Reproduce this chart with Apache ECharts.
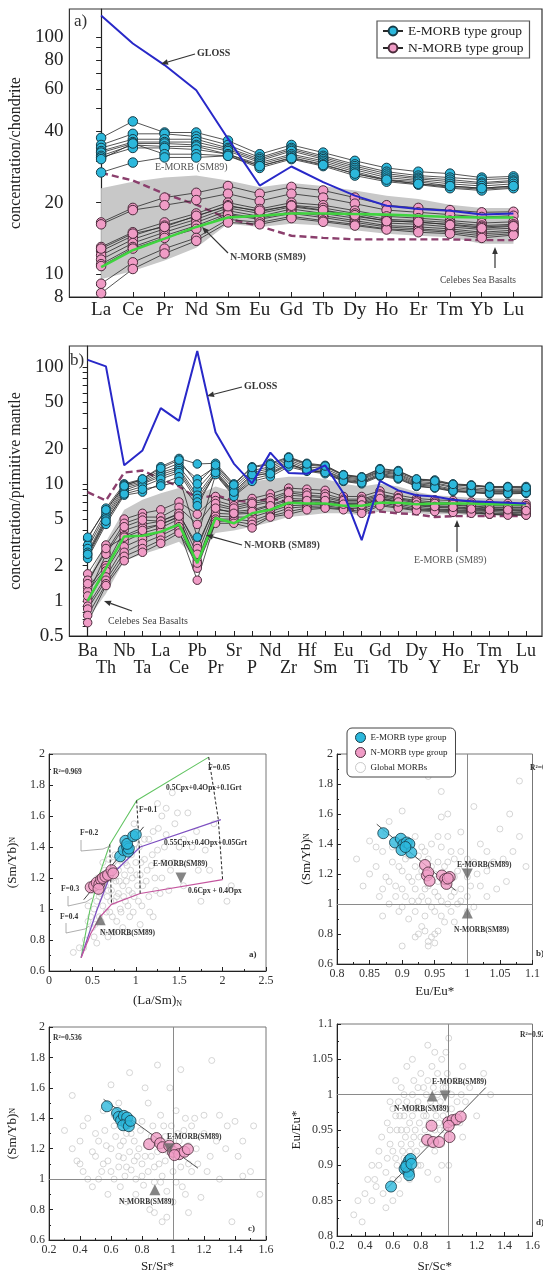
<!DOCTYPE html>
<html><head><meta charset="utf-8">
<script src="https://cdn.jsdelivr.net/npm/echarts@6/dist/echarts.min.js"></script>
<style>html,body{margin:0;padding:0;background:#fff}#c{width:543px;height:1276px}</style>
</head><body><div id="c"></div><script>
// ---------- Panel a) REE (chondrite-normalized) ----------
const REE = ['La','Ce','Pr','Nd','Sm','Eu','Gd','Tb','Dy','Ho','Er','Tm','Yb','Lu'];
const REE_E = [
 [37.5,44,39.5,39.5,36.5,32,35,32.5,30,28,27,26.5,25.5,25.8],
 [35,39,39,38,35,31,34,31.5,29,27,26,25.5,25,25.3],
 [34,37,37,37,34,30.5,33.5,31,28.5,26.5,25.5,25,24.3,24.8],
 [33,36,36,36,33.5,30,33,30.5,28,26,25.2,24.5,24,24.5],
 [32.5,35.5,35.5,35,33,29.5,32,30,27.5,25.5,24.8,24,23.5,24],
 [31.5,35,34.5,34.5,32,29,31.5,29.5,27,25,24.5,23.5,23,23.5],
 [31,34,34,33.5,32,28.5,31,29,26.5,24.8,24,23.2,22.8,23.2],
 [30.5,35.5,32,32,31.5,28,30.5,28.5,26,24.5,23.8,23,22.5,23],
 [26.8,29.5,31,31,31.5,28.5,30.8,28.8,26.5,25,24,23.5,23,23.5]
];
const REE_N = [
 [16.5,19,21,22,23.5,21.8,23.3,22.5,21,19.5,19,18.6,18.2,18.3],
 [16.2,18.6,19.5,20.5,21.8,20.3,21.8,21,19.8,18.6,18.2,17.8,17.4,17.6],
 [13,15,16.5,18,20,18.8,20,19.5,18.5,17.5,17.2,16.8,16.4,16.6],
 [12.5,14.5,16,17.5,19.5,18.3,19.5,19,18,17,16.8,16.5,16,16.2],
 [12,14,15.5,17,19,18,19.2,18.5,17.5,16.8,16.5,16.2,15.8,16],
 [11.5,13.5,15,16.5,18.5,17.5,18.8,18,17.2,16.4,16.2,15.8,15.4,15.6],
 [11,13,14.5,16,18,17.2,18.3,17.6,16.8,16,15.8,15.5,15,15.3],
 [10.8,12.8,14.2,15.5,17.8,17,18,17.3,16.5,15.8,15.5,15.2,14.8,15],
 [9.1,11.2,12.8,14.2,17,16.5,17.5,16.8,16.2,15.5,15.3,15,14.5,14.8],
 [8.3,10.5,12.2,13.8,16.5,16.2,17.2,16.6,16,15.4,15,14.8,14.2,14.6],
 [12.8,14.8,15.8,17.6,19.3,18.5,19.4,18.6,17.7,16.7,16.6,16.1,15.6,15.9]
];
const REE_GLOSS = [123,93.7,76,59.5,37.2,23.6,28.4,24.4,21.4,19.4,18.8,18.5,17.8,18.0];
const REE_NMORB = [10.7,12.6,14.1,15.8,17.3,17.6,18.0,18.0,17.9,17.8,17.6,17.4,17.3,17.3];
const REE_EMORB = [26.7,24.8,21.8,19.6,17.1,15.9,14.5,14.2,14.0,14.0,14.0,14.0,13.9,13.9];
const REE_CEL_UP = [23,24.5,25.5,26,24.8,23.2,24.2,23.5,22.5,21.4,20.7,19.6,19.0,19.0];
const REE_CEL_LO = [9.5,10.3,11.4,12.9,16.3,15.8,16.3,16.0,15.3,14.8,14.5,14.3,13.4,13.4];
const REE_YTICKS = [8,10,20,40,60,80,100];

// ---------- Panel b) spider (primitive-mantle normalized) ----------
const PM = ['Ba','Th','Nb','Ta','La','Ce','Pb','Pr','Sr','P','Nd','Zr','Hf','Sm','Eu','Ti','Gd','Tb','Dy','Y','Ho','Er','Tm','Yb','Lu'];
const PM_E = [
 [3.4,6.2,10,11,14,16.5,14.8,15,10,14,15,17,15,14.4,12,11.5,13.5,13,11,10.8,10,9.8,9.5,9.5,9.5],
 [3.0,5.8,9.8,10.8,13,15,11,14,9.5,13,14,16.5,14.5,14,11.8,11.2,13,12.5,10.8,10.5,9.8,9.6,9.3,9.3,9.2],
 [2.8,5.5,9.5,10.5,12.5,14,9,13.5,9,12.5,13.5,16,14,13.5,11.5,11,12.8,12.2,10.5,10.2,9.5,9.3,9,9,9],
 [2.6,5.2,9.2,10.2,12,13.5,8,13,8.5,12,13,15.5,13.5,13,11.2,10.8,12.5,12,10.2,10,9.3,9,8.8,8.8,8.8],
 [2.5,5.0,8.8,10,11.5,13,7.5,12.5,8.2,11.5,12.5,15,13,12.8,11,10.5,12.2,11.7,10,9.7,9,8.8,8.6,8.6,8.6],
 [2.4,4.7,8.5,9.5,11,12.5,7,12.2,8,11,12,14.5,13,12.5,10.8,10.3,12,11.4,9.8,9.5,8.8,8.6,8.4,8.4,8.4],
 [2.3,4.5,8.0,8.5,10,11.5,3.5,12,7.8,10.5,11.5,14,12.8,12.2,10.5,10,11.6,11,9.5,9.2,8.6,8.4,8.2,8.2,8.3],
 [2.5,4.8,8.2,9,9.6,10.5,6.5,12.5,8.5,12,12.2,14.8,13.2,12.5,10.6,10.2,11.8,11.2,9.6,9.3,8.7,8.5,8.3,8.3,8.4],
 [3.5,6.0,9.6,11,13.6,16,10,14.5,9.8,13.8,14.6,16.8,14.8,14.2,11.9,11.4,13.3,12.8,11,10.6,9.9,9.7,9.4,9.4,9.3]
];
const PM_N = [
 [1.7,3.0,5.0,5.6,6.0,7.0,5.5,7.8,7.0,7.5,8.2,9.2,9.0,8.8,7.8,7.8,8.7,8.0,7.5,7.3,7.2,7.0,6.8,6.8,6.8],
 [1.5,2.6,4.6,5.2,5.2,6.3,4.5,7.2,6.5,7.0,7.6,8.6,8.4,8.2,7.4,7.4,8.2,7.6,7.2,7.0,6.9,6.7,6.5,6.5,6.5],
 [1.3,2.0,4.0,4.5,4.8,5.5,3.0,6.5,6.0,6.5,7.0,8.0,7.8,7.6,7.0,7.0,7.8,7.3,6.9,6.7,6.6,6.4,6.2,6.2,6.2],
 [1.2,1.9,3.6,4.2,4.5,5.2,2.0,6.0,5.8,6.0,6.6,7.5,7.4,7.3,6.8,6.8,7.6,7.1,6.7,6.5,6.4,6.2,6.1,6.0,6.0],
 [1.0,1.8,3.2,3.8,4.2,5.0,2.2,5.6,5.5,5.6,6.2,7.0,7.0,7.0,6.6,6.5,7.4,6.9,6.5,6.3,6.2,6.0,5.9,5.9,5.8],
 [0.9,1.6,2.9,3.4,3.9,4.6,2.0,5.3,5.2,5.2,5.8,6.5,6.6,6.7,6.4,6.3,7.1,6.7,6.3,6.1,6.0,5.9,5.8,5.7,5.7],
 [0.85,1.5,2.6,3.1,3.6,4.3,1.9,5.0,5.0,4.8,5.5,6.2,6.4,6.5,6.2,6.1,6.9,6.5,6.1,6.0,5.9,5.8,5.6,5.6,5.5],
 [0.75,1.4,2.4,2.8,3.3,4.0,1.5,4.8,4.8,4.5,5.3,5.8,6.2,6.3,6.1,5.8,6.7,6.3,6.0,5.9,5.8,5.7,5.5,5.5,5.4],
 [0.65,1.35,2.2,2.6,3.1,3.8,2.1,4.6,4.6,4.2,5.2,5.5,6.0,6.2,6.0,5.6,6.5,6.2,5.9,5.8,5.7,5.6,5.5,5.4,5.4],
 [1.1,2.5,4.3,4.9,4.8,5.6,2.8,6.8,6.2,6.8,7.2,8.4,8.0,7.8,7.2,7.2,8.0,7.5,7.0,6.8,6.7,6.5,6.3,6.3,6.3],
 [1.4,2.8,3.5,4.0,4.5,5.3,2.5,6.2,5.6,5.8,6.5,7.2,7.2,7.2,6.7,6.6,7.5,7.0,6.6,6.4,6.3,6.1,6.0,6.0,5.9]
];
const PM_GLOSS = [115,101,14.4,19.3,44.4,34.6,137,27.6,14.9,10.1,18.5,12.4,12.2,14.4,8.3,3.3,10.6,8.8,8.0,7.8,7.3,7.1,7.0,6.9,6.8];
const PM_NMORB = [1.0,1.9,3.55,3.6,3.9,4.5,2.1,5.1,4.6,5.6,6.0,6.9,6.8,6.8,6.5,6.5,6.9,6.9,6.7,6.8,6.8,6.8,6.7,6.7,6.7];
const PM_EMORB = [8.5,7.2,12.5,13,11,9.5,7.5,8.0,7.2,7.0,7.5,7.0,6.8,6.8,6.5,5.6,5.8,5.6,5.5,5.2,5.3,5.3,5.3,5.3,5.3];
const PM_CEL_UP = [1.5,3.2,6.0,7.3,8.3,9.2,8.0,9.5,8.5,10.5,11,11.5,11.5,11,10,9.5,10,9.5,8.5,8.0,7.8,7.6,7.5,7.5,7.4];
const PM_CEL_LO = [0.7,1.15,2.2,2.5,2.8,3.2,2.2,3.8,4.0,4.3,4.7,5.2,5.4,5.6,5.6,5.4,5.8,5.7,5.6,5.5,5.5,5.4,5.4,5.3,5.3];
const PM_YTICKS = [0.5,1,2,5,10,20,50,100];

// ---------- Scatter panels ----------
const SA_E = [[0.82,1.34],[0.86,1.38],[0.88,1.44],[0.9,1.40],[0.91,1.37],[0.92,1.39],[0.9,1.42],[0.97,1.47],[1.0,1.48]];
const SA_N = [[0.48,1.14],[0.52,1.15],[0.55,1.17],[0.58,1.16],[0.6,1.19],[0.62,1.2],[0.65,1.21],[0.68,1.22],[0.72,1.25],[0.74,1.23],[0.57,1.13]];
const SA_G = [[0.28,0.72],[0.35,0.75],[0.42,0.8],[0.45,0.92],[0.5,0.88],[0.52,1.0],[0.55,1.05],[0.58,0.95],[0.6,1.1],[0.62,1.02],[0.63,0.85],[0.65,1.15],[0.67,1.08],[0.7,1.2],[0.7,0.98],[0.72,1.12],[0.74,1.3],[0.75,1.05],[0.77,1.18],[0.78,0.92],[0.8,1.25],[0.8,1.1],[0.82,1.0],[0.84,1.32],[0.85,1.15],[0.87,1.22],[0.88,1.05],[0.9,1.28],[0.92,1.12],[0.93,0.95],[0.95,1.35],[0.96,1.2],[0.98,1.08],[1.0,1.3],[1.02,1.15],[1.04,1.4],[1.05,1.22],[1.07,1.02],[1.1,1.32],[1.12,1.18],[1.15,1.45],[1.15,1.08],[1.18,1.28],[1.2,1.5],[1.22,1.2],[1.25,1.38],[1.28,1.1],[1.3,1.6],[1.32,1.3],[1.35,1.48],[1.4,1.25],[1.42,1.75],[1.45,1.55],[1.5,1.4],[1.55,1.15],[1.6,1.62],[1.62,1.3],[1.7,1.5],[1.75,1.05],[1.8,1.38],[1.85,1.25],[1.9,1.55],[2.05,1.05],[2.1,1.15],[0.55,0.78],[0.68,0.82],[0.9,0.85],[1.2,0.95],[0.98,1.55],[0.62,1.3],
 [0.45,1.02],[0.48,0.95],[0.5,1.12],[0.53,0.9],[0.56,1.2],[0.58,1.08],[0.6,0.92],[0.62,1.15],[0.64,1.25],[0.66,0.98],[0.68,1.12],[0.69,1.32],[0.71,1.05],[0.73,0.95],[0.74,1.2],[0.76,1.35],[0.78,1.08],[0.79,1.28],[0.81,1.18],[0.83,0.98],[0.84,1.4],[0.86,1.08],[0.88,1.3],[0.89,1.18],[0.91,1.02],[0.92,1.38],[0.94,1.25],[0.96,1.1],[0.97,0.98],[0.99,1.42],[1.01,1.22],[1.03,1.05],[1.06,1.3],[1.08,1.15],[1.1,1.45],[1.13,1.25],[1.16,0.98],[1.19,1.35],[1.23,1.12],[1.26,1.52],[1.3,1.2],[1.33,1.4],[1.38,1.12],[1.44,1.3],[1.48,1.62],[1.55,1.45],[1.65,1.4],[1.72,1.25],[1.05,0.9],[0.85,0.88],[0.75,0.85],[0.52,0.82],[0.4,0.75],[1.35,1.65],[1.25,1.68]];
const SA_GREEN = [[0.37,0.686],[0.47,0.99],[0.587,1.233],[0.70,1.416],[1.01,1.70],[1.84,1.98]];
const SA_PURPLE = [[0.37,0.686],[0.55,0.99],[0.70,1.21],[1.05,1.40],[1.98,1.577]];
const SA_PINK = [[0.37,0.686],[0.48,0.84],[0.59,0.95],[0.72,1.03],[1.05,1.10],[2.0,1.19]];
const SA_F005 = [[1.84,1.98],[1.95,1.58],[2.0,1.19]];
const SA_F01 = [[1.01,1.70],[1.04,1.40],[1.05,1.10]];
const SA_F02 = [[0.70,1.416],[0.71,1.21],[0.72,1.03]];
const SA_REG = [[0.40,1.06],[1.09,1.53]];
const SA_NSM = [[0.59,0.93]], SA_ESM = [[1.52,1.20]];

const SB_E = [[0.871,1.472],[0.889,1.41],[0.898,1.435],[0.902,1.397],[0.899,1.36],[0.907,1.41],[0.911,1.40],[0.914,1.343],[0.905,1.38]];
const SB_N = [[0.935,1.26],[0.938,1.19],[0.94,1.21],[0.942,1.155],[0.961,1.19],[0.966,1.166],[0.968,1.134],[0.973,1.18],[0.97,1.17]];
const SB_G = [[0.83,1.3],[0.84,1.12],[0.85,1.42],[0.86,1.25],[0.865,1.05],[0.87,1.35],[0.875,1.18],[0.88,1.55],[0.88,1.0],[0.885,1.28],[0.89,1.12],[0.895,0.95],[0.9,1.22],[0.9,1.62],[0.905,1.05],[0.91,1.32],[0.91,0.9],[0.915,1.15],[0.92,1.25],[0.92,0.78],[0.925,1.02],[0.93,1.38],[0.93,0.85],[0.935,1.1],[0.94,0.75],[0.94,1.3],[0.945,0.98],[0.95,1.2],[0.95,0.8],[0.955,1.45],[0.955,1.05],[0.96,0.92],[0.96,1.58],[0.965,1.15],[0.97,1.28],[0.97,1.0],[0.975,1.35],[0.98,1.08],[0.98,0.88],[0.985,1.22],[0.99,1.48],[0.99,1.02],[1.0,1.3],[1.005,1.12],[1.01,1.65],[1.015,1.2],[1.02,1.4],[1.03,1.05],[1.04,1.28],[1.05,1.5],[1.06,1.15],[1.07,1.35],[1.08,1.82],[1.09,1.25],[0.94,1.85],[0.96,1.75],[0.9,0.72],[0.95,0.74],[0.935,0.82],[0.87,0.92],[1.0,0.95],[0.92,1.45],
 [0.88,1.15],[0.885,1.38],[0.89,1.05],[0.895,1.25],[0.9,0.98],[0.9,1.1],[0.905,1.3],[0.91,1.18],[0.915,1.02],[0.915,1.4],[0.92,1.1],[0.92,0.95],[0.925,1.32],[0.925,1.18],[0.93,1.05],[0.93,1.22],[0.935,0.92],[0.935,1.35],[0.94,1.12],[0.94,1.02],[0.945,1.25],[0.945,1.4],[0.95,1.08],[0.95,0.95],[0.955,1.28],[0.955,1.15],[0.96,1.02],[0.96,1.38],[0.965,1.25],[0.965,0.88],[0.97,1.12],[0.97,1.45],[0.975,1.05],[0.975,0.95],[0.98,1.3],[0.98,1.18],[0.985,1.0],[0.99,1.1],[0.99,1.35],[0.995,1.25],[1.0,1.05],[1.0,1.18],[1.01,1.28],[1.01,0.98],[1.02,1.12],[1.03,1.35],[1.03,1.22],[1.045,1.1],[1.055,1.3],[1.065,1.6],[0.945,0.78],[0.94,0.72],[0.955,0.82],[0.925,0.8],[0.86,1.38],[0.875,1.48],[0.87,1.1],[0.85,1.2],[1.08,1.45],[0.97,1.6]];
const SB_REG = [[0.861,1.532],[0.982,1.09]];
const SB_NSM = [[1.0,0.94]], SB_ESM = [[1.0,1.2]];

const SC_E = [[0.574,1.479],[0.639,1.435],[0.65,1.409],[0.665,1.387],[0.683,1.416],[0.70,1.365],[0.704,1.405],[0.678,1.354],[0.715,1.348],[0.726,1.383]];
const SC_N = [[0.846,1.23],[0.893,1.27],[0.917,1.236],[0.933,1.21],[0.976,1.22],[0.998,1.18],[1.02,1.20],[1.04,1.164],[1.074,1.18],[1.096,1.197],[1.009,1.158]];
const SC_G = [[0.3,1.32],[0.35,1.55],[0.38,1.12],[0.4,1.25],[0.42,1.05],[0.45,1.4],[0.48,1.18],[0.5,1.3],[0.52,1.0],[0.55,1.1],[0.57,1.22],[0.6,1.62],[0.6,1.05],[0.62,1.35],[0.65,1.15],[0.66,0.95],[0.68,1.25],[0.7,1.08],[0.72,1.7],[0.73,1.3],[0.75,1.12],[0.76,0.9],[0.78,1.2],[0.8,1.38],[0.8,1.02],[0.82,1.15],[0.84,1.5],[0.85,0.8],[0.86,1.28],[0.88,1.08],[0.9,1.75],[0.9,1.18],[0.92,0.98],[0.94,1.35],[0.95,1.12],[0.96,0.75],[0.98,1.25],[1.0,1.05],[1.02,1.45],[1.03,1.3],[1.05,1.72],[1.06,0.95],[1.08,1.4],[1.1,1.1],[1.12,1.35],[1.15,1.2],[1.18,0.88],[1.2,1.42],[1.22,1.05],[1.25,1.78],[1.28,1.25],[1.3,1.0],[1.35,1.35],[1.38,0.72],[1.42,1.15],[1.45,1.02],[1.5,1.05],[1.52,1.35],[1.56,0.9],[0.55,1.45],[0.7,0.85],[1.1,0.78],[0.45,1.0],[0.98,1.6],[0.65,1.5],
 [0.5,1.15],[0.52,1.25],[0.54,1.05],[0.56,1.32],[0.58,1.12],[0.6,1.2],[0.62,1.0],[0.63,1.28],[0.65,1.08],[0.66,1.22],[0.68,1.14],[0.69,1.02],[0.7,1.3],[0.72,1.18],[0.73,1.06],[0.75,1.25],[0.76,1.0],[0.77,1.15],[0.79,1.32],[0.8,1.1],[0.81,0.96],[0.83,1.22],[0.84,1.05],[0.86,1.15],[0.87,1.35],[0.88,0.98],[0.9,1.25],[0.91,1.1],[0.92,1.42],[0.93,1.02],[0.95,1.28],[0.96,0.92],[0.97,1.18],[0.99,1.35],[1.01,1.15],[1.02,0.98],[1.04,1.25],[1.05,1.08],[1.07,1.32],[1.08,0.9],[1.1,1.22],[1.12,1.05],[1.14,1.4],[1.16,1.1],[1.2,1.3],[1.24,1.15],[1.3,1.42],[1.34,1.2],[1.4,1.38],[1.45,1.25],[0.35,1.2],[0.4,1.1],[0.42,1.35],[0.48,0.95],[0.58,0.9],[0.88,0.78],[0.93,0.72],[1.0,0.85],[0.62,1.42],[0.82,1.6]];
const SC_REG = [[0.552,1.525],[1.161,1.072]];
const SC_NSM = [[0.883,0.93]], SC_ESM = [[0.976,1.20]];

const SD_E = [[0.587,0.870],[0.684,0.895],[0.699,0.901],[0.716,0.907],[0.727,0.909],[0.712,0.891],[0.716,0.886],[0.695,0.898],[0.733,0.902]];
const SD_N = [[0.845,0.936],[0.888,0.933],[0.931,0.933],[0.877,0.956],[0.996,0.961],[1.006,0.940],[1.028,0.964],[1.056,0.965],[1.086,0.969],[1.0,0.956]];
const SD_G = [[0.32,0.83],[0.35,0.85],[0.4,0.86],[0.42,0.88],[0.45,0.9],[0.48,0.87],[0.5,0.92],[0.52,0.94],[0.55,0.89],[0.56,0.96],[0.58,0.93],[0.6,0.98],[0.62,0.91],[0.63,0.95],[0.65,0.97],[0.66,0.93],[0.68,1.0],[0.7,0.95],[0.71,0.98],[0.72,0.92],[0.74,0.97],[0.75,1.02],[0.76,0.95],[0.78,0.99],[0.8,0.94],[0.8,1.03],[0.82,0.97],[0.84,1.0],[0.85,0.93],[0.86,0.96],[0.88,1.04],[0.9,0.98],[0.9,0.92],[0.92,1.0],[0.94,0.95],[0.95,1.05],[0.96,0.97],[0.98,1.01],[1.0,0.94],[1.0,1.08],[1.02,0.98],[1.05,1.02],[1.08,0.96],[1.1,1.04],[1.12,0.99],[1.15,1.01],[1.2,0.97],[1.25,1.03],[1.3,1.0],[0.6,0.88],[0.65,0.86],[0.7,0.89],[0.55,0.84],[0.78,0.9],[0.92,0.88],[0.85,1.07],[0.7,1.04],[1.0,0.9],[0.38,0.82],[0.98,1.06],
 [0.58,0.95],[0.6,0.92],[0.62,0.97],[0.63,0.9],[0.64,0.99],[0.66,0.95],[0.67,0.92],[0.68,0.97],[0.69,0.94],[0.7,0.99],[0.72,0.96],[0.73,0.93],[0.74,1.0],[0.75,0.94],[0.76,0.98],[0.77,0.92],[0.78,1.01],[0.79,0.96],[0.8,0.98],[0.81,0.93],[0.82,1.01],[0.83,0.95],[0.84,0.97],[0.85,1.02],[0.86,0.94],[0.87,0.99],[0.88,0.96],[0.89,1.01],[0.9,0.95],[0.91,0.97],[0.92,1.03],[0.93,0.96],[0.94,0.99],[0.95,0.93],[0.96,1.01],[0.97,0.95],[0.98,0.98],[0.99,1.03],[1.02,1.0],[1.04,0.96],[1.06,0.99],[1.09,1.0],[0.5,0.9],[0.53,0.86],[0.45,0.85],[0.47,0.88],[0.56,0.91],[0.6,0.85],[0.64,0.88],[0.68,0.91],[0.72,0.88],[0.8,0.9],[0.85,0.89],[0.9,1.06],[0.74,1.05],[0.66,1.01],[0.58,0.99],[0.62,1.02],[0.95,0.9],[1.1,0.94]];
const SD_REG = [[0.561,0.868],[1.265,1.01]];
const SD_NSM = [[0.882,0.998]], SD_ESM = [[0.974,0.998]];

// ---------- styles ----------
const SERIF = '"Liberation Serif","DejaVu Serif",serif';
const CYAN = '#2cb8dc', PINK = '#f09cc6', EDGE_C = '#163c48', EDGE_P = '#4a2a3a';
const INK = '#222';

function sampleLines(name, rows, k, color, edge, size) {
  return rows.map(r => ({
    type: 'line', name, xAxisIndex: k, yAxisIndex: k,
    data: r.map((v, i) => [i, v]), symbol: 'circle', symbolSize: size,
    lineStyle: { color: '#2a2a2a', width: 0.8 },
    itemStyle: { color, borderColor: edge, borderWidth: 1 }, z: 3
  }));
}
function refLine(arr, k, color, width, type, z) {
  return { type: 'line', xAxisIndex: k, yAxisIndex: k, data: arr.map((v, i) => [i, v]),
    symbol: 'none', lineStyle: { color, width, type: type || 'solid' }, z: z || 4, silent: true };
}
function band(up, lo, k, anchor) {
  return { type: 'custom', xAxisIndex: k, yAxisIndex: k, silent: true, z: 1, data: [anchor],
    renderItem: (p, api) => {
      const pts = up.map((v, i) => api.coord([i, v])).concat(lo.map((v, i) => api.coord([i, v])).reverse());
      return { type: 'polygon', shape: { points: pts }, style: { fill: '#c8c8c8' } };
    } };
}
function xyLine(arr, k, color, width, type) {
  return { type: 'line', xAxisIndex: k, yAxisIndex: k, data: arr, symbol: 'none', silent: true,
    lineStyle: { color, width, type: type || 'solid' }, z: 3 };
}
function pts(name, arr, k, color, edge, size, z) {
  return { type: 'scatter', name, xAxisIndex: k, yAxisIndex: k, data: arr, symbol: 'circle', symbolSize: size,
    itemStyle: { color, borderColor: edge, borderWidth: 1 }, z: z };
}
function tri(arr, k, down) {
  return { type: 'scatter', xAxisIndex: k, yAxisIndex: k, data: arr, symbol: 'triangle', symbolSize: 11,
    symbolRotate: down ? 180 : 0, itemStyle: { color: '#676767' }, z: 6, silent: true };
}
function globals(arr, k, cross) {
  const s = { type: 'scatter', name: 'Global MORBs', xAxisIndex: k, yAxisIndex: k, data: arr, symbol: 'circle',
    symbolSize: 6, itemStyle: { color: 'rgba(255,255,255,0)', borderColor: '#c6c6c6', borderWidth: 0.9 }, z: 2 };
  if (cross) s.markLine = { silent: true, symbol: 'none', label: { show: false },
    lineStyle: { color: '#8a8a8a', width: 1, type: 'solid' }, data: [{ xAxis: 1 }, { yAxis: 1 }] };
  return s;
}
const idx = n => Array.from({ length: n }, (_, i) => i);

function logY(k, min, max, name, labels, ticks, gap) {
  return { type: 'log', logBase: 10, gridIndex: k, position: 'left', min, max,
    name, nameLocation: 'middle', nameGap: gap,
    nameTextStyle: { fontFamily: SERIF, fontSize: 16, color: INK },
    axisLine: { show: true, lineStyle: { color: INK, width: 1.2 } },
    axisTick: { show: true, inside: false, length: 5, customValues: ticks, lineStyle: { color: INK } },
    minorTick: { show: false },
    axisLabel: { customValues: labels, formatter: v => String(+v.toPrecision(3)), fontFamily: SERIF, fontSize: 19, color: INK, margin: 6 },
    splitLine: { show: false } };
}
// element-name axis; `which` selects the label row: 'all', 'even' (top row) or 'odd' (second row)
function catX(k, names, max, which, fontSize, margin) {
  const all = idx(names.length);
  const lab = which === 'all' ? all : all.filter(i => (i % 2 === 1) === (which === 'odd'));
  const main = which !== 'odd';
  return { type: 'value', gridIndex: k, position: 'bottom', offset: 0, min: -1, max,
    axisLine: { show: main, lineStyle: { color: INK, width: 1.2 } },
    axisTick: { show: main, inside: true, length: 5, customValues: all, lineStyle: { color: INK } },
    axisLabel: { customValues: lab, fontFamily: SERIF, fontSize, color: INK, margin,
      showMinLabel: true, showMaxLabel: true, formatter: v => names[v] },
    splitLine: { show: false } };
}
function sX(k, min, max, interval, name, gap) {
  return { type: 'value', gridIndex: k, position: 'bottom', min, max, interval, name, nameLocation: 'middle', nameGap: gap,
    nameTextStyle: { fontFamily: SERIF, fontSize: 13, color: INK, rich: { s: { fontSize: 8, fontFamily: SERIF, padding: [7, 0, 0, 0] } } },
    axisLine: { show: true, lineStyle: { color: INK, width: 1 } },
    axisTick: { inside: true, length: 4, lineStyle: { color: INK } },
    minorTick: { show: true, splitNumber: 2, length: 2, lineStyle: { color: INK } },
    axisLabel: { fontFamily: SERIF, fontSize: 12, color: '#333', margin: 4, showMaxLabel: true },
    splitLine: { show: false } };
}
function sY(k, min, max, interval, name, gap) {
  const a = sX(k, min, max, interval, name, gap);
  a.position = 'left';
  a.nameTextStyle.rich.s.padding = [0, 0, 0, 0];
  return a;
}

// annotation helpers (pixel space)
function txt(x, y, text, size, opt) {
  opt = opt || {};
  return { type: 'text', x, y, silent: true, z: 100,
    style: { text, fontSize: size, fontFamily: SERIF, fontWeight: opt.bold ? 'bold' : 'normal',
      fill: opt.fill || '#333', align: opt.align || 'left', verticalAlign: 'middle' } };
}
function arrow(x1, y1, x2, y2) {
  const a = Math.atan2(y2 - y1, x2 - x1), L = 7, W = 2.8;
  const bx = x2 - L * Math.cos(a), by = y2 - L * Math.sin(a);
  return [
    { type: 'line', silent: true, z: 100, shape: { x1, y1, x2: bx, y2: by }, style: { stroke: '#333', lineWidth: 1.2 } },
    { type: 'polygon', silent: true, z: 100, shape: { points: [[x2, y2], [bx + W * Math.sin(a), by - W * Math.cos(a)], [bx - W * Math.sin(a), by + W * Math.cos(a)]] }, style: { fill: '#333' } }
  ];
}
function poly(points, color) {
  return { type: 'polyline', silent: true, z: 100, shape: { points }, style: { stroke: color || '#999', lineWidth: 0.8, fill: null } };
}

const series = [
  // panel a
  band(REE_CEL_UP, REE_CEL_LO, 0, [0, 10]),
  refLine(REE_EMORB, 0, '#8b3f6d', 2.4, [7, 4], 2),
  ...sampleLines('N-MORB type group', REE_N, 0, PINK, EDGE_P, 9.5),
  ...sampleLines('E-MORB type group', REE_E, 0, CYAN, EDGE_C, 9.5),
  refLine(REE_NMORB, 0, '#3fd43f', 2.6),
  refLine(REE_GLOSS, 0, '#2828c8', 2),
  // panel b
  band(PM_CEL_UP, PM_CEL_LO, 1, [0, 5]),
  refLine(PM_EMORB, 1, '#8b3f6d', 2.4, [7, 4], 2),
  ...sampleLines('N-MORB type group', PM_N, 1, PINK, EDGE_P, 8.5),
  ...sampleLines('E-MORB type group', PM_E, 1, CYAN, EDGE_C, 8.5),
  refLine(PM_NMORB, 1, '#3fd43f', 2.6),
  refLine(PM_GLOSS, 1, '#2828c8', 2),
  // scatter a
  globals(SA_G, 2, false),
  xyLine(SA_GREEN, 2, '#62c462', 1.1),
  xyLine(SA_PURPLE, 2, '#7d4fc0', 1.3),
  xyLine(SA_PINK, 2, '#c4559e', 1.2),
  xyLine(SA_F005, 2, '#222', 1, [3, 2]),
  xyLine(SA_F01, 2, '#222', 1, [3, 2]),
  xyLine(SA_F02, 2, '#222', 1, [3, 2]),
  xyLine(SA_REG, 2, '#444', 1),
  pts('E-MORB type group', SA_E, 2, CYAN, EDGE_C, 11, 5),
  pts('N-MORB type group', SA_N, 2, PINK, EDGE_P, 11, 5),
  tri(SA_NSM, 2, false), tri(SA_ESM, 2, true),
  // scatter b
  globals(SB_G, 3, true),
  xyLine(SB_REG, 3, '#555', 1),
  pts('E-MORB type group', SB_E, 3, CYAN, EDGE_C, 11, 5),
  pts('N-MORB type group', SB_N, 3, PINK, EDGE_P, 11, 5),
  tri(SB_NSM, 3, false), tri(SB_ESM, 3, true),
  // scatter c
  globals(SC_G, 4, true),
  xyLine(SC_REG, 4, '#555', 1),
  pts('E-MORB type group', SC_E, 4, CYAN, EDGE_C, 11, 5),
  pts('N-MORB type group', SC_N, 4, PINK, EDGE_P, 11, 5),
  tri(SC_NSM, 4, false), tri(SC_ESM, 4, true),
  // scatter d
  globals(SD_G, 5, true),
  xyLine(SD_REG, 5, '#555', 1),
  pts('E-MORB type group', SD_E, 5, CYAN, EDGE_C, 11, 5),
  pts('N-MORB type group', SD_N, 5, PINK, EDGE_P, 11, 5),
  tri(SD_NSM, 5, false), tri(SD_ESM, 5, true)
];

const graphic = [
  // panel a
  txt(74, 22, 'a)', 17),
  txt(197, 53, 'GLOSS', 10, { bold: true }), ...arrow(195, 54, 161, 64),
  txt(155, 167, 'E-MORB (SM89)', 10, { fill: '#555' }),
  txt(230, 257, 'N-MORB (SM89)', 10, { bold: true, fill: '#444' }), ...arrow(228, 253, 202, 227),
  txt(440, 280, 'Celebes Sea Basalts', 9.5, { fill: '#444' }), ...arrow(495, 268, 495, 247),
  // panel b
  txt(70, 361, 'b)', 17),
  txt(244, 386, 'GLOSS', 10, { bold: true }), ...arrow(242, 387, 207, 396),
  txt(244, 545, 'N-MORB (SM89)', 10, { bold: true, fill: '#444' }), ...arrow(242, 545, 206, 535),
  txt(414, 560, 'E-MORB (SM89)', 10, { fill: '#555' }), ...arrow(457, 552, 457, 520),
  txt(108, 621, 'Celebes Sea Basalts', 10, { fill: '#444' }), ...arrow(132, 611, 104, 601),
  // scatter a
  txt(53, 772, 'R²=0.969', 7.5, { bold: true }),
  txt(208, 768, 'F=0.05', 7.5, { bold: true }),
  txt(166, 788, '0.5Cpx+0.4Opx+0.1Grt', 7.5, { bold: true }),
  txt(139, 810, 'F=0.1', 7.5, { bold: true }),
  txt(80, 833, 'F=0.2', 7.5, { bold: true }),
  txt(164, 843, '0.55Cpx+0.4Opx+0.05Grt', 7.5, { bold: true }),
  txt(153, 864, 'E-MORB(SM89)', 7.5, { bold: true }),
  txt(188, 891, '0.6Cpx + 0.4Opx', 7.5, { bold: true }),
  txt(61, 889, 'F=0.3', 7.5, { bold: true }),
  txt(60, 917, 'F=0.4', 7.5, { bold: true }),
  txt(100, 933, 'N-MORB(SM89)', 7.5, { bold: true }),
  txt(249, 955, 'a)', 9, { bold: true }),
  poly([[81, 840], [81, 851], [103, 849], [110, 846]]),
  poly([[68, 896], [68, 906], [86, 902], [92, 898]]),
  poly([[66, 923], [66, 933], [85, 929], [89, 926]]),
  // scatter b
  txt(530, 768, 'R²=0.90', 7.5, { bold: true }),
  txt(457, 865, 'E-MORB(SM89)', 7.5, { bold: true }),
  txt(454, 930, 'N-MORB(SM89)', 7.5, { bold: true }),
  txt(536, 954, 'b)', 9, { bold: true }),
  // scatter c
  txt(53, 1038, 'R²=0.536', 7.5, { bold: true }),
  txt(167, 1137, 'E-MORB(SM89)', 7.5, { bold: true }),
  txt(119, 1202, 'N-MORB(SM89)', 7.5, { bold: true }),
  txt(248, 1229, 'c)', 9, { bold: true }),
  // scatter d
  txt(520, 1035, 'R²=0.92', 7.5, { bold: true }),
  txt(432, 1082, 'E-MORB(SM89)', 7.5, { bold: true }),
  txt(394, 1109, 'N-MORB(SM89)', 7.5, { bold: true }),
  txt(536, 1223, 'd)', 9, { bold: true })
];

const gridBase = { show: true, borderColor: '#333', borderWidth: 1.2, backgroundColor: 'transparent' };
const option = {
  backgroundColor: '#fff',
  animation: false,
  textStyle: { fontFamily: SERIF },
  grid: [
    Object.assign({ left: 64, top: 9, width: 478, height: 288 }, gridBase),
    Object.assign({ left: 64, top: 346, width: 478, height: 290 }, gridBase),
    Object.assign({ left: 49, top: 754, width: 217, height: 217 }, gridBase, { borderColor: '#777', borderWidth: 1 }),
    Object.assign({ left: 337, top: 754, width: 216, height: 210 }, gridBase, { borderColor: '#777', borderWidth: 1 }),
    Object.assign({ left: 49, top: 1027, width: 217, height: 213 }, gridBase, { borderColor: '#777', borderWidth: 1 }),
    Object.assign({ left: 337, top: 1024, width: 216, height: 212 }, gridBase, { borderColor: '#777', borderWidth: 1 })
  ],
  xAxis: [
    catX(0, REE, 13.9, 'all', 19, 4),
    catX(1, PM, 24.87, 'even', 18, 6),
    sX(2, 0, 2.5, 0.5, '(La/Sm){s|N}', 22),
    sX(3, 0.8, 1.1, 0.05, 'Eu/Eu*', 21),
    sX(4, 0.2, 1.6, 0.2, 'Sr/Sr*', 20),
    sX(5, 0.2, 1.6, 0.2, 'Sr/Sc*', 24),
    catX(1, PM, 24.87, 'odd', 18, 23)
  ],
  yAxis: [
    logY(0, 8, 131, 'concentration/chondrite', REE_YTICKS, [8, 9, 10, 20, 30, 40, 50, 60, 70, 80, 90, 100], 36),
    logY(1, 0.5, 151, 'concentration/primitive mantle', PM_YTICKS, [0.5, 0.6, 0.7, 0.8, 0.9, 1, 2, 3, 4, 5, 6, 7, 8, 9, 10, 20, 30, 40, 50, 60, 70, 80, 90, 100], 34),
    sY(2, 0.6, 2, 0.2, '(Sm/Yb){s|N}', 30),
    sY(3, 0.6, 2, 0.2, '(Sm/Yb){s|N}', 24),
    sY(4, 0.6, 2, 0.2, '(Sm/Yb){s|N}', 30),
    sY(5, 0.8, 1.1, 0.05, 'Eu/Eu*', 34)
  ],
  legend: [
    { left: 377, top: 21, orient: 'vertical', selectedMode: false,
      data: ['E-MORB type group', 'N-MORB type group'],
      itemWidth: 20, itemHeight: 11, itemGap: 3, padding: [3, 6, 3, 5],
      borderColor: '#555', borderWidth: 1.2, backgroundColor: '#fff',
      textStyle: { fontFamily: SERIF, fontSize: 13.5, color: INK } },
    { left: 347, top: 728, orient: 'vertical', selectedMode: false, z: 10,
      data: [
        { name: 'E-MORB type group', icon: 'circle', itemStyle: { color: CYAN, borderColor: EDGE_C, borderWidth: 1 } },
        { name: 'N-MORB type group', icon: 'circle', itemStyle: { color: PINK, borderColor: EDGE_P, borderWidth: 1 } },
        { name: 'Global MORBs', icon: 'circle', itemStyle: { color: '#fff', borderColor: '#bbb', borderWidth: 1 } }
      ],
      itemWidth: 10, itemHeight: 10, itemGap: 4, padding: [4, 8, 4, 8],
      borderColor: '#444', borderWidth: 1, borderRadius: 5, backgroundColor: '#fff',
      textStyle: { fontFamily: SERIF, fontSize: 9, color: INK } }
  ],
  series,
  graphic
};
const chart = echarts.init(document.getElementById('c'), null, { renderer: 'canvas' });
chart.setOption(option);
</script></body></html>
